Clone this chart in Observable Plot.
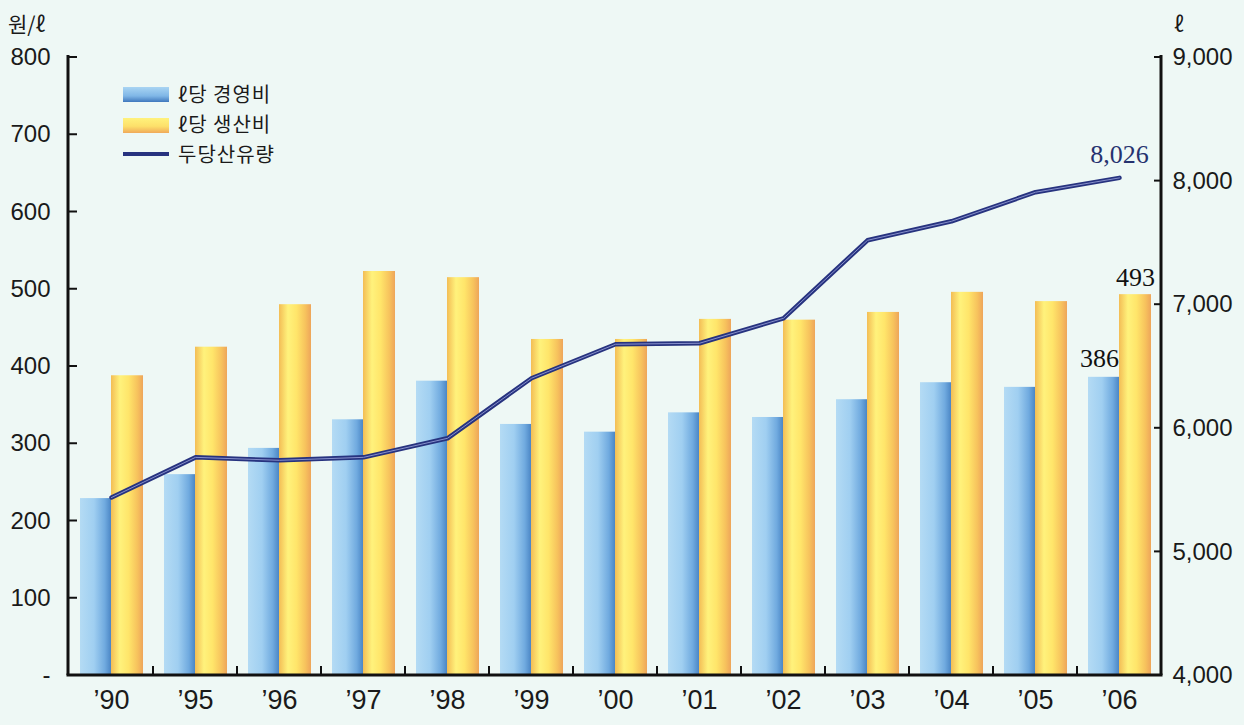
<!DOCTYPE html>
<html>
<head>
<meta charset="utf-8">
<script src="https://cdn.jsdelivr.net/npm/d3@7"></script>
<script src="https://cdn.jsdelivr.net/npm/@observablehq/plot@0.6"></script>
<style>
  html, body { margin: 0; padding: 0; background: #eef8f5; }
  #chart { width: 1244px; height: 725px; }
</style>
</head>
<body>
<div id="chart"></div>
<script>
// ---- data ----
const years = ["’90", "’95", "’96", "’97", "’98", "’99", "’00", "’01", "’02", "’03", "’04", "’05", "’06"];
const mgmtCost = [229, 260, 294, 331, 381, 325, 315, 340, 334, 357, 379, 373, 386];   // ℓ당 경영비 (원/ℓ)
const prodCost = [388, 425, 480, 523, 515, 435, 435, 461, 460, 470, 496, 484, 493];   // ℓ당 생산비 (원/ℓ)
const milkYield = [5440, 5765, 5741, 5765, 5919, 6405, 6680, 6688, 6890, 7521, 7675, 7910, 8026]; // 두당산유량 (ℓ)
const leftTicks = [0, 100, 200, 300, 400, 500, 600, 700, 800];
const rightTicks = [4000, 5000, 6000, 7000, 8000, 9000];
const seriesNames = ["ℓ당 경영비", "ℓ당 생산비", "두당산유량"];
const leftUnit = "원/ℓ", rightUnit = "ℓ";

// map right axis (ℓ) onto left scale (원/ℓ)
const R0 = 4000, R1 = 9000, L0 = 0, L1 = 800;
const toLeft = v => L0 + (v - R0) / (R1 - R0) * (L1 - L0);
const fromLeft = v => R0 + (v - L0) / (L1 - L0) * (R1 - R0);

const mgmt = years.map((y, i) => ({year: y, value: mgmtCost[i]}));
const prod = years.map((y, i) => ({year: y, value: prodCost[i]}));
const milk = years.map((y, i) => ({year: y, value: milkYield[i], y: toLeft(milkYield[i])}));

const sans = "'Liberation Sans', Arial, Helvetica, sans-serif";
const serif = "'Liberation Serif', 'Times New Roman', serif";
const kor = "'Noto Sans CJK KR', 'Noto Sans', sans-serif";

const plot = Plot.plot({
  width: 1244,
  height: 725,
  marginLeft: 68,
  marginRight: 83,
  marginTop: 57,
  marginBottom: 50,
  style: {background: "transparent", fontFamily: sans, color: "#1a1a1a", overflow: "visible"},
  x: {domain: years, padding: 0, label: null},
  y: {domain: [L0, L1], label: null},
  marks: [
    Plot.barY(mgmt, {x: "year", y: "value", fill: "url(#gBlue)", insetLeft: 11, insetRight: 42}),
    Plot.barY(prod, {x: "year", y: "value", fill: "url(#gYellow)", insetLeft: 42, insetRight: 10}),
    Plot.line(milk, {x: "year", y: "y", stroke: "#27337f", strokeWidth: 4.5}),
    Plot.line(milk, {x: "year", y: "y", stroke: "#8790cc", strokeWidth: 1}),
    // value annotations for the last year
    Plot.text(milk.slice(-1), {x: "year", y: "y", text: d => d.value.toLocaleString("en-US"), dy: -23, fontSize: 26, fontFamily: serif, fill: "#26326f", letterSpacing: -1}),
    Plot.text(prod.slice(-1), {x: "year", y: "value", text: d => String(d.value), dx: 16, dy: -17, fontSize: 26, fontFamily: serif, fill: "#111", letterSpacing: -1}),
    Plot.text(mgmt.slice(-1), {x: "year", y: "value", text: d => String(d.value), dx: -20, dy: -19, fontSize: 26, fontFamily: serif, fill: "#111", letterSpacing: -1}),
    // axes (labels; tick marks drawn inward below)
    Plot.axisY({anchor: "left", ticks: leftTicks, tickFormat: d => d === 0 ? "-" : String(d), tickSize: 0, tickPadding: 18, fontSize: 24, letterSpacing: -0.5, label: null}),
    Plot.axisY({anchor: "right", ticks: rightTicks.map(toLeft), tickFormat: d => Math.round(fromLeft(d)).toLocaleString("en-US"), tickSize: 0, tickPadding: 11, fontSize: 24, letterSpacing: -0.5, label: null}),
    Plot.axisX({anchor: "bottom", tickSize: 0, tickPadding: 14, fontSize: 27, letterSpacing: -1, label: null})
  ]
});

const svg = d3.select(plot);
const defs = svg.insert("defs", ":first-child");
const grad = (id, vertical, stops) => {
  const lg = defs.append("linearGradient").attr("id", id)
    .attr("x1", "0").attr("y1", "0").attr("x2", vertical ? "0" : "1").attr("y2", vertical ? "1" : "0");
  stops.forEach(([o, c]) => lg.append("stop").attr("offset", o).attr("stop-color", c));
};
grad("gBlue", false, [["0%", "#b4dbf4"], ["45%", "#a0cff1"], ["80%", "#70aadf"], ["100%", "#4b86c5"]]);
grad("gYellow", false, [["0%", "#f3bd55"], ["28%", "#fff27c"], ["55%", "#ffe56a"], ["82%", "#f7c35d"], ["100%", "#eea55a"]]);
grad("gBlueV", true, [["0%", "#a9d5f3"], ["60%", "#7fb6e6"], ["100%", "#3f78bd"]]);
grad("gYellowV", true, [["0%", "#fff27c"], ["55%", "#fde06a"], ["100%", "#f0aa5a"]]);

// axis lines and inward ticks, positioned through Plot's own scales
const xs = plot.scale("x"), ys = plot.scale("y");
const xLeft = xs.range[0], xRight = xs.range[1];
const yBottom = ys.apply(L0), yTop = ys.apply(L1);
const g = svg.append("g").attr("stroke", "#111").attr("fill", "none");
g.append("line").attr("x1", xLeft).attr("x2", xLeft).attr("y1", yTop - 2).attr("y2", yBottom).attr("stroke-width", 3);
g.append("line").attr("x1", xRight).attr("x2", xRight).attr("y1", yTop - 2).attr("y2", yBottom).attr("stroke-width", 3);
g.append("line").attr("x1", xLeft - 1.5).attr("x2", xRight + 1.5).attr("y1", yBottom).attr("y2", yBottom).attr("stroke-width", 3);
years.slice(1).forEach(yr => {
  const bx = xs.apply(yr);
  g.append("line").attr("x1", bx).attr("x2", bx).attr("y1", yBottom).attr("y2", yBottom - 9).attr("stroke-width", 2);
});
leftTicks.slice(1).forEach(t => {
  const ty = ys.apply(t);
  g.append("line").attr("x1", xLeft).attr("x2", xLeft + 9).attr("y1", ty).attr("y2", ty).attr("stroke-width", 2);
});
rightTicks.slice(1).forEach(t => {
  const ty = ys.apply(toLeft(t));
  g.append("line").attr("x1", xRight - 7).attr("x2", xRight).attr("y1", ty).attr("y2", ty).attr("stroke-width", 2);
});

// unit labels
svg.append("text").attr("x", 8).attr("y", 32).attr("text-anchor", "start").attr("font-family", kor).attr("font-size", 21).attr("fill", "#1a1a1a").text(leftUnit);
svg.append("text").attr("x", 1174).attr("y", 32).attr("text-anchor", "start").attr("font-family", kor).attr("font-size", 21).attr("fill", "#1a1a1a").text(rightUnit);

// legend
const legend = svg.append("g").attr("font-family", kor).attr("font-size", 20).attr("letter-spacing", 1).attr("fill", "#1a1a1a").attr("text-anchor", "start");
const swX = 123, swW = 46, txtX = 178;
legend.append("rect").attr("x", swX).attr("y", 87).attr("width", swW).attr("height", 15).attr("fill", "url(#gBlueV)");
legend.append("rect").attr("x", swX).attr("y", 118).attr("width", swW).attr("height", 15).attr("fill", "url(#gYellowV)");
legend.append("line").attr("x1", swX).attr("x2", swX + swW).attr("y1", 154).attr("y2", 154).attr("stroke", "#27337f").attr("stroke-width", 4);
legend.append("text").attr("x", txtX).attr("y", 95).attr("dy", "0.36em").text(seriesNames[0]);
legend.append("text").attr("x", txtX).attr("y", 125).attr("dy", "0.36em").text(seriesNames[1]);
legend.append("text").attr("x", txtX).attr("y", 155).attr("dy", "0.36em").text(seriesNames[2]);

document.getElementById("chart").appendChild(plot);
</script>
</body>
</html>
